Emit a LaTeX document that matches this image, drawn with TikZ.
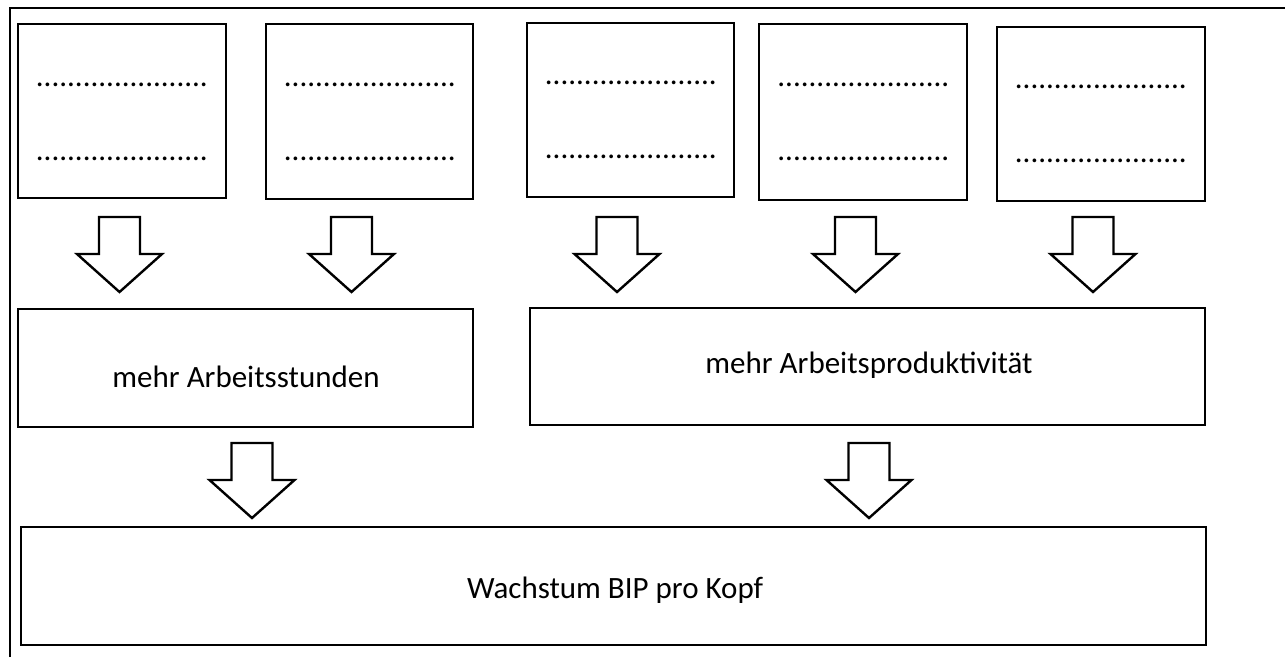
\documentclass[tikz,border=0pt]{standalone}
\usepackage{fontspec}
\setmainfont{Carlito}
\begin{document}
\begin{tikzpicture}[x=1pt,y=-1pt,
  box/.style={draw, line width=2.8pt, rectangle, inner sep=0pt, outer sep=0pt},
  dotline/.style={inner sep=0pt, font=\fontsize{31}{36}\selectfont},
  lbl/.style={inner sep=0pt, anchor=base, font=\fontsize{31}{36}\selectfont},
  barrow/.pic={\draw[line width=2.4pt, line join=miter, fill=white]
     (-20.5,0) -- (-20.5,37) -- (-42.5,37) -- (0,75) -- (42.5,37) -- (20.5,37) -- (20.5,0) -- cycle;}]
\useasboundingbox (0,0) rectangle (1285,659);
% outer frame
\draw[line width=2.5pt] (10,657) -- (10,8) -- (1285,8);
% top boxes
\node[box, minimum width=208, minimum height=174] (b1) at (122,111) {};
\node[box, minimum width=207, minimum height=175] (b2) at (369.5,111.5) {};
\node[box, minimum width=207, minimum height=174] (b3) at (630.5,110) {};
\node[box, minimum width=208, minimum height=176] (b4) at (863,112) {};
\node[box, minimum width=208, minimum height=174] (b5) at (1101,114) {};
% dotted lines
\node[dotline] (d1a) at (122,85) {......................};
\node[dotline] (d1b) at (122,159) {......................};
\node[dotline] (d2a) at (370,85) {......................};
\node[dotline] (d2b) at (370,159) {......................};
\node[dotline] (d3a) at (631,83) {......................};
\node[dotline] (d3b) at (631,157) {......................};
\node[dotline] (d4a) at (863.5,85) {......................};
\node[dotline] (d4b) at (863.5,159) {......................};
\node[dotline] (d5a) at (1101,87) {......................};
\node[dotline] (d5b) at (1101,161) {......................};
% middle boxes
\node[box, minimum width=455, minimum height=118] (m1) at (245.5,368) {};
\node[box, minimum width=675, minimum height=117] (m2) at (867.5,366.5) {};
\node[lbl] (t1) at (246,387) {mehr Arbeitsstunden};
\node[lbl] (t2) at (869,373) {mehr Arbeitsproduktivität};
% bottom box
\node[box, minimum width=1185, minimum height=118] (bot) at (613.5,586) {};
\node[lbl] (t3) at (615,598) {Wachstum BIP pro Kopf};
% block arrows
\pic at (119.5,217) {barrow};
\pic at (351.5,217) {barrow};
\pic at (617,217) {barrow};
\pic at (855.5,217) {barrow};
\pic at (1093,217) {barrow};
\pic at (252,443) {barrow};
\pic at (869,443) {barrow};
\end{tikzpicture}
\end{document}
